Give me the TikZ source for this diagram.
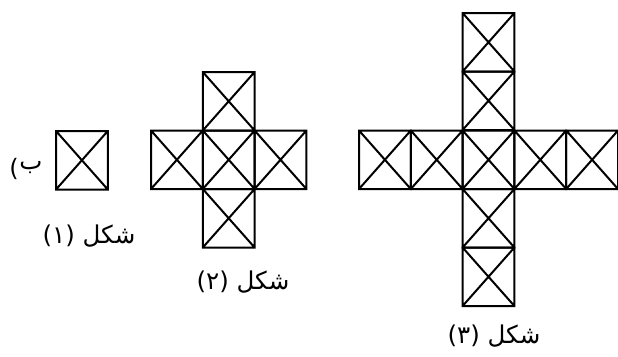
\documentclass[tikz,border=0pt]{standalone}
\usepackage{fontspec}
\newfontfamily\arabicfont[Script=Arabic]{DejaVu Sans}
\newfontfamily\plainfont{DejaVu Sans}
\TeXXeTstate=1
\usepackage{tikz}

\tikzset{
  xcell/.pic={
    \draw[line width=2pt] (0,0) rectangle (51.8,58.5)
      (0,0) -- (51.8,58.5) (51.8,0) -- (0,58.5);
  },
  caption/.style={font=\arabicfont\fontsize{24.5}{26}\selectfont, inner sep=0pt}
}

\begin{document}
\begin{tikzpicture}[x=1pt, y=-1pt]
  \useasboundingbox (0,0) rectangle (618,356);
  % shape 1
  \pic at (56,131) {xcell};
  \node[caption, font=\plainfont\fontsize{24}{26}\selectfont] (paren) at (14,169) {(};
  \node[caption] (tag) at (31,168) {ب};
  \node[caption] (cap1) at (89,236) {\beginR شکل (۱)\endR};
  % shape 2
  \foreach \px/\py in {202.8/72, 151/130.5, 202.8/130.5, 254.6/130.5, 202.8/189}
    \pic at (\px,\py) {xcell};
  \node[caption] (cap2) at (243,282) {\beginR شکل (۲)\endR};
  % shape 3
  \foreach \px in {359, 410.8, 462.6, 514.4, 566.2}
    \pic at (\px,130.5) {xcell};
  \foreach \py in {13, 71.5, 189, 247.5}
    \pic at (462.6,\py) {xcell};
  \node[caption] (cap3) at (494,336) {\beginR شکل (۳)\endR};
\end{tikzpicture}
\end{document}
